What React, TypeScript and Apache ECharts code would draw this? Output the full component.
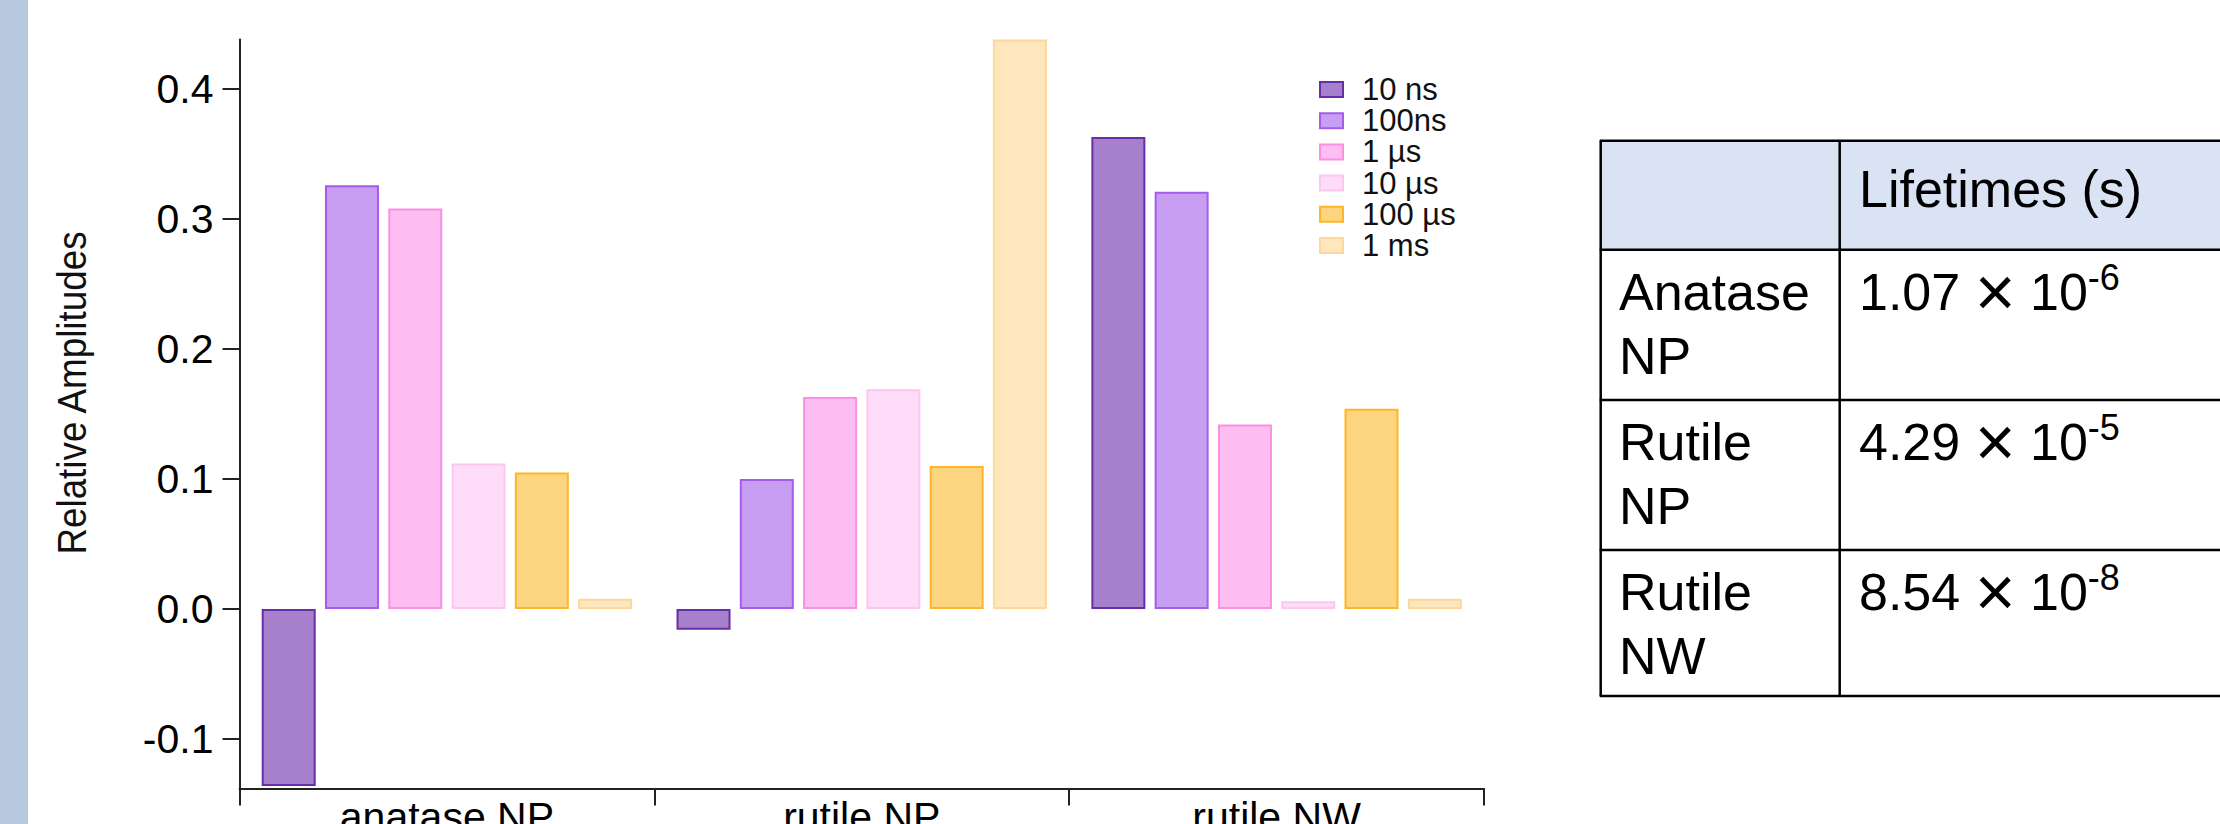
import React, { useEffect, useRef } from "react";
import * as echarts from "echarts";

const categories = ["anatase NP", "rutile NP", "rutile NW"];
const lifetimeNames = ["10 ns", "100ns", "1 µs", "10 µs", "100 µs", "1 ms"];
const amp10ns = [-0.136, -0.016, 0.363];
const amp100ns = [0.326, 0.1, 0.321];
const amp1us = [0.308, 0.163, 0.142];
const amp10us = [0.112, 0.169, 0.006];
const amp100us = [0.105, 0.11, 0.154];
const amp1ms = [0.008, 0.438, 0.008];
const seriesValues = [amp10ns, amp100ns, amp1us, amp10us, amp100us, amp1ms];
const yTicks = [-0.1, 0.0, 0.1, 0.2, 0.3, 0.4];

const fillColors = ["#a780cb", "#c89ef2", "#fdbdf2", "#fedcf8", "#fdd47f", "#fee7bd"];
const borderColors = ["#6a2da8", "#a55ceb", "#fb8fe0", "#fcc6f2", "#fdb52a", "#fdd89a"];

const tableHeader = "Lifetimes (s)";
const tableSamples = ["Anatase\nNP", "Rutile\nNP", "Rutile\nNW"];
const tableMantissa = ["1.07", "4.29", "8.54"];
const tableExponent = ["-6", "-5", "-8"];

const FONT = "'Liberation Sans', Arial, Helvetica, sans-serif";

export default function App() {
  const ref = useRef<HTMLDivElement>(null);
  useEffect(() => {
    if (!ref.current) return;
    const chart = echarts.init(ref.current, undefined, { renderer: "svg" });

    const tableLeft = 1600.7;
    const tableDivider = 1839.7;
    const tableRight = 2240;
    const rowLines = [140.7, 249.7, 400, 550, 696];
    const graphics: any[] = [
      { type: "rect", shape: { x: 0, y: 0, width: 28, height: 824 }, style: { fill: "#b7c9de" }, silent: true },
      {
        type: "text",
        x: 72,
        y: 393,
        rotation: Math.PI / 2,
        scaleX: 0.92,
        style: {
          text: "Relative Amplitudes",
          fontSize: 40,
          fontFamily: FONT,
          fill: "#111",
          align: "center",
          verticalAlign: "middle",
        },
      },
      {
        type: "rect",
        shape: { x: tableLeft, y: rowLines[0], width: tableRight - tableLeft, height: rowLines[1] - rowLines[0] },
        style: { fill: "#dae3f3" },
      },
    ];
    rowLines.forEach((y) =>
      graphics.push({
        type: "line",
        shape: { x1: tableLeft - 1, y1: y, x2: tableRight, y2: y },
        style: { stroke: "#000", lineWidth: 2.5 },
      })
    );
    [tableLeft, tableDivider].forEach((x) =>
      graphics.push({
        type: "line",
        shape: { x1: x, y1: rowLines[0], x2: x, y2: rowLines[rowLines.length - 1] },
        style: { stroke: "#000", lineWidth: 2.5 },
      })
    );
    graphics.push({
      type: "text",
      x: 1859,
      y: 189,
      style: { text: tableHeader, fontSize: 52, fontFamily: FONT, fill: "#000", align: "left", verticalAlign: "middle" },
    });
    tableSamples.forEach((s, i) => {
      const top = rowLines[i + 1];
      graphics.push({
        type: "text",
        x: 1619,
        y: top + 74,
        style: {
          text: s,
          fontSize: 52,
          lineHeight: 64.3,
          fontFamily: FONT,
          fill: "#000",
          align: "left",
          verticalAlign: "middle",
        },
      });
      graphics.push({
        type: "text",
        x: 1859,
        y: top + 41.8,
        style: {
          text: `{m|${tableMantissa[i]} }{x|×}{m| 10}{s|${tableExponent[i]}}`,
          fontFamily: FONT,
          fill: "#000",
          align: "left",
          verticalAlign: "middle",
          rich: {
            m: { fontSize: 52, lineHeight: 64, fontFamily: FONT, fill: "#000" },
            x: { fontSize: 70, lineHeight: 64, fontFamily: FONT, fill: "#000" },
            s: { fontSize: 36, lineHeight: 36, fontFamily: FONT, fill: "#000", verticalAlign: "top" },
          },
        },
      });
    });

    chart.setOption({
      animation: false,
      backgroundColor: "#ffffff",
      textStyle: { fontFamily: FONT },
      grid: {
        left: 239.5,
        right: 2220 - 1484,
        top: 39.5,
        bottom: 824 - 788.5,
        outerBoundsMode: "none",
        containLabel: false,
      },
      legend: {
        orient: "vertical",
        left: 1314,
        top: 69,
        itemWidth: 23,
        itemHeight: 15,
        itemGap: 0.2,
        icon: "rect",
        data: lifetimeNames,
        textStyle: { fontSize: 31, lineHeight: 31, color: "#111", fontFamily: FONT, padding: [0, 0, 0, 14] },
      },
      xAxis: {
        type: "category",
        data: categories,
        boundaryGap: true,
        axisLine: { onZero: false, lineStyle: { color: "#222", width: 2 } },
        axisTick: { show: true, length: 17, lineStyle: { color: "#222", width: 2 } },
        axisLabel: { fontSize: 41, color: "#000", margin: 8, interval: 0, fontFamily: FONT },
        splitLine: { show: false },
      },
      yAxis: {
        type: "value",
        min: -0.138,
        max: 0.438,
        axisLine: { show: true, lineStyle: { color: "#222", width: 2 } },
        axisTick: { show: true, length: 17, lineStyle: { color: "#222", width: 2 }, customValues: yTicks },
        axisLabel: {
          fontSize: 41,
          color: "#000",
          margin: 26,
          fontFamily: FONT,
          customValues: yTicks,
          formatter: (v: number) => v.toFixed(1),
        },
        splitLine: { show: false },
      },
      series: lifetimeNames.map((name, i) => ({
        name,
        type: "bar",
        data: seriesValues[i],
        barWidth: 54,
        barGap: "17.2%",
        itemStyle: { color: fillColors[i], borderColor: borderColors[i], borderWidth: 2 },
      })),
      graphic: graphics,
    });
    return () => chart.dispose();
  }, []);
  return <div ref={ref} style={{ position: "absolute", left: 0, top: 0, width: 2220, height: 824 }} />;
}
